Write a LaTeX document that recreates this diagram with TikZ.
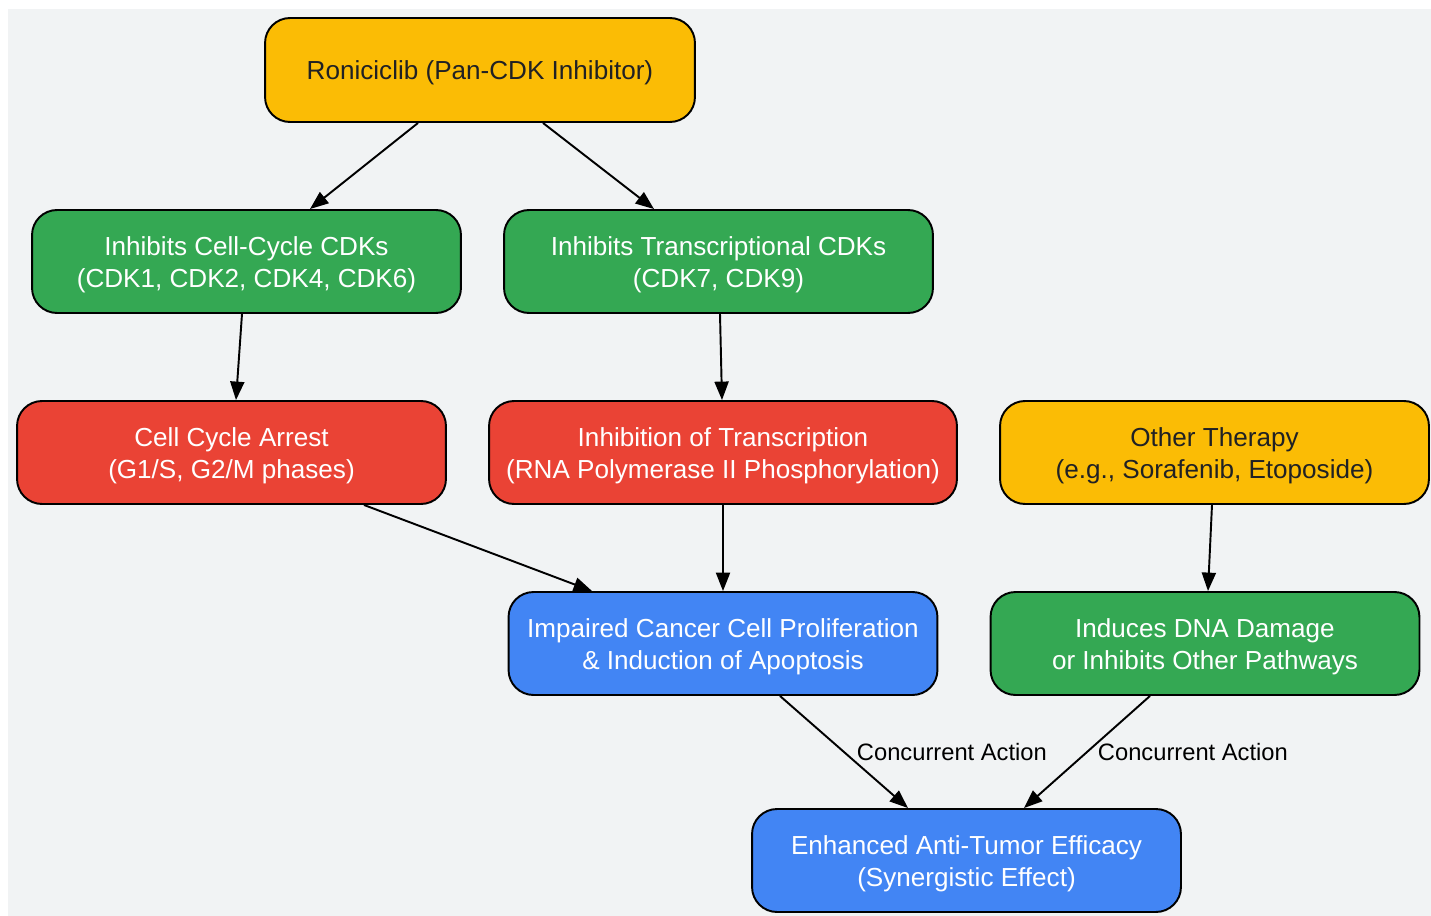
\documentclass[tikz,border=0pt]{standalone}
\usepackage{fontspec}
\setmainfont{Liberation Sans}
\usetikzlibrary{arrows.meta}

\definecolor{bggray}{HTML}{F1F3F4}
\definecolor{gyellow}{HTML}{FBBC05}
\definecolor{ggreen}{HTML}{34A853}
\definecolor{gred}{HTML}{EA4335}
\definecolor{gblue}{HTML}{4285F4}
\definecolor{darktext}{HTML}{202124}
\newcommand{\boxlift}{\rule{0pt}{14.2pt}}

\begin{document}
\begin{tikzpicture}[x=0.02cm, y=-0.02cm,
    box/.style={draw=black, line width=1.1pt, rounded corners=0.5cm,
      minimum width=8.58cm, minimum height=2.06cm, align=center, inner sep=0.3cm,
      font=\fontsize{14.85}{18.2}\selectfont, text=white},
    flow/.style={line width=1.1pt, -{Triangle[length=10.5pt, width=8pt]}},
    tag/.style={font=\fontsize{13.5}{15}\selectfont, anchor=west, inner sep=0pt}]
  \useasboundingbox (0,0) rectangle (1431,916);
  \fill [bggray] (8,9) rectangle (1431,916);

  \node [box, fill=gyellow, text=darktext, minimum width=8.6cm, minimum height=2.08cm] (ron) at (480,70) {\boxlift Roniciclib (Pan-CDK Inhibitor)};
  \node [box, fill=ggreen] (cc) at (246.5,261.5) {\boxlift Inhibits Cell-Cycle CDKs\\(CDK1, CDK2, CDK4, CDK6)};
  \node [box, fill=ggreen] (tc) at (718.5,261.5) {\boxlift Inhibits Transcriptional CDKs\\(CDK7, CDK9)};
  \node [box, fill=gred] (arrest) at (231.5,452.5) {\boxlift Cell Cycle Arrest\\(G1/S, G2/M phases)};
  \node [box, fill=gred, minimum width=9.36cm] (itr) at (723,452.5) {\boxlift Inhibition of Transcription\\(RNA Polymerase II Phosphorylation)};
  \node [box, fill=gyellow, text=darktext] (other) at (1214.5,452.5) {\boxlift Other Therapy\\(e.g., Sorafenib, Etoposide)};
  \node [box, fill=gblue] (imp) at (723,643.5) {\boxlift Impaired Cancer Cell Proliferation\\\& Induction of Apoptosis};
  \node [box, fill=ggreen] (dna) at (1205,643.5) {\boxlift Induces DNA Damage\\or Inhibits Other Pathways};
  \node [box, fill=gblue] (enh) at (966.5,860.5) {\boxlift Enhanced Anti-Tumor Efficacy\\(Synergistic Effect)};

  \draw [flow] ([xshift=-1.24cm]ron.south) -- ([xshift=1.27cm]cc.north);
  \draw [flow] ([xshift=1.26cm]ron.south) -- ([xshift=-1.29cm]tc.north);
  \draw [flow] ([xshift=-0.09cm]cc.south) -- ([xshift=0.09cm]arrest.north);
  \draw [flow] ([xshift=0.03cm]tc.south) -- ([xshift=-0.02cm]itr.north);
  \draw [flow] ([xshift=2.65cm]arrest.south) -- ([xshift=-2.62cm]imp.north);
  \draw [flow] (itr.south) -- (imp.north);
  \draw [flow] ([xshift=-0.05cm]other.south) -- ([xshift=0.06cm]dna.north);
  \draw [flow] ([xshift=1.14cm]imp.south) -- ([xshift=-1.17cm]enh.north)
    node [tag, midway, xshift=0.24cm] {Concurrent Action};
  \draw [flow] ([xshift=-1.1cm]dna.south) -- ([xshift=1.15cm]enh.north)
    node [tag, midway, xshift=0.20cm] {Concurrent Action};
\end{tikzpicture}
\end{document}
